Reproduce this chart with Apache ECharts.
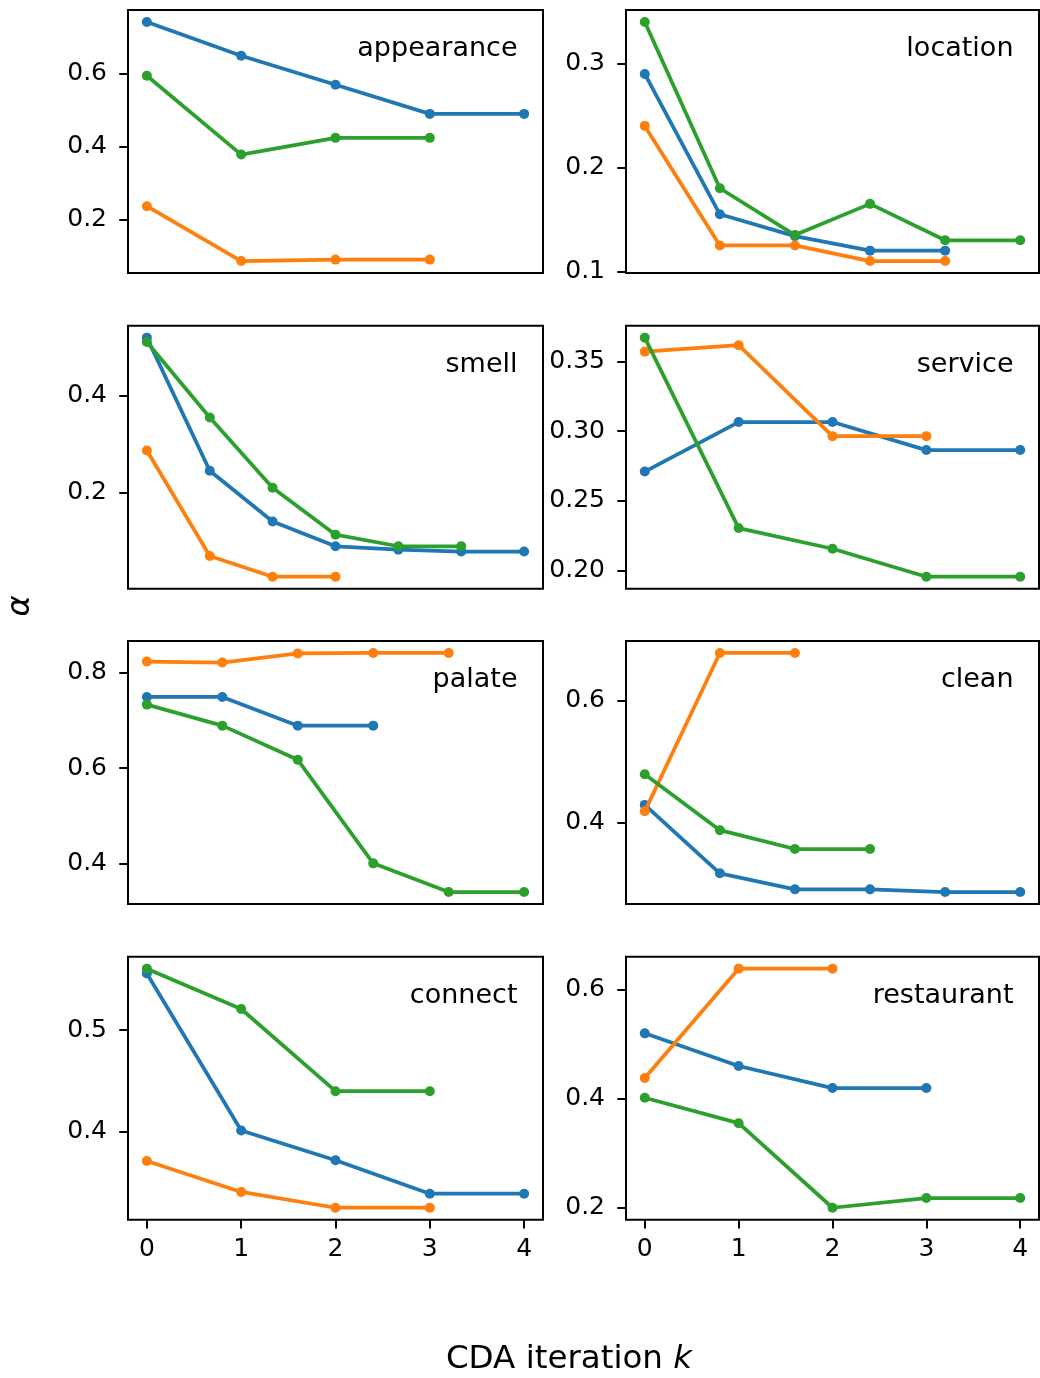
<!DOCTYPE html>
<html><head><meta charset="utf-8">
<script src="https://cdn.jsdelivr.net/npm/echarts@6/dist/echarts.min.js"></script>
<style>html,body{margin:0;padding:0;background:#fff}#c{width:1040px;height:1378px}</style>
</head><body><div id="c"></div>
<script>
// ---------- data ----------
const panelNames = ['appearance','location','smell','service','palate','clean','connect','restaurant'];
const xTicks = [0, 1, 2, 3, 4];
const xTitle = 'CDA iteration ';
const xTitleVar = 'k';
const yTitle = 'α';

const appearanceX = [0, 1, 2, 3, 4];
const appearanceBlue = [0.743, 0.650, 0.570, 0.490, 0.490];
const appearanceOrange = [0.236, 0.085, 0.089, 0.089];
const appearanceGreen = [0.595, 0.378, 0.424, 0.424];
const appearanceTicks = [0.2, 0.4, 0.6];

const locationX = [0, 0.8, 1.6, 2.4, 3.2, 4.0];
const locationBlue = [0.290, 0.155, 0.134, 0.120, 0.120];
const locationOrange = [0.240, 0.125, 0.125, 0.110, 0.110];
const locationGreen = [0.340, 0.180, 0.135, 0.165, 0.130, 0.130];
const locationTicks = [0.1, 0.2, 0.3];

const smellX = [0, 0.667, 1.333, 2, 2.667, 3.333, 4];
const smellBlue = [0.520, 0.245, 0.140, 0.089, 0.082, 0.078, 0.078];
const smellOrange = [0.287, 0.069, 0.026, 0.026];
const smellGreen = [0.511, 0.355, 0.210, 0.113, 0.089, 0.089];
const smellTicks = [0.2, 0.4];

const serviceX = [0, 1, 2, 3, 4];
const serviceBlue = [0.271, 0.3065, 0.3065, 0.2864, 0.2864];
const serviceOrange = [0.357, 0.3616, 0.2964, 0.2964];
const serviceGreen = [0.367, 0.2305, 0.2157, 0.1956, 0.1956];
const serviceTicks = [0.20, 0.25, 0.30, 0.35];

const palateX = [0, 0.8, 1.6, 2.4, 3.2, 4.0];
const palateBlue = [0.749, 0.749, 0.689, 0.689];
const palateOrange = [0.823, 0.821, 0.840, 0.841, 0.841];
const palateGreen = [0.733, 0.689, 0.6175, 0.401, 0.341, 0.341];
const palateTicks = [0.4, 0.6, 0.8];

const cleanX = [0, 0.8, 1.6, 2.4, 3.2, 4.0];
const cleanBlue = [0.4286, 0.316, 0.2896, 0.2896, 0.2852, 0.2852];
const cleanOrange = [0.418, 0.6786, 0.6786];
const cleanGreen = [0.479, 0.387, 0.356, 0.356];
const cleanTicks = [0.4, 0.6];

const connectX = [0, 1, 2, 3, 4];
const connectBlue = [0.556, 0.4007, 0.3713, 0.3383, 0.3383];
const connectOrange = [0.3706, 0.340, 0.3244, 0.3244];
const connectGreen = [0.5607, 0.5208, 0.4396, 0.4396];
const connectTicks = [0.4, 0.5];

const restaurantX = [0, 1, 2, 3, 4];
const restaurantBlue = [0.520, 0.460, 0.4196, 0.4196];
const restaurantOrange = [0.438, 0.6387, 0.6387];
const restaurantGreen = [0.4018, 0.3552, 0.200, 0.2178, 0.2178];
const restaurantTicks = [0.2, 0.4, 0.6];

// ---------- layout / style ----------
const panels = [
  {x: appearanceX, s: [appearanceBlue, appearanceOrange, appearanceGreen], t: appearanceTicks, d: 1},
  {x: locationX, s: [locationBlue, locationOrange, locationGreen], t: locationTicks, d: 1},
  {x: smellX, s: [smellBlue, smellOrange, smellGreen], t: smellTicks, d: 1},
  {x: serviceX, s: [serviceBlue, serviceOrange, serviceGreen], t: serviceTicks, d: 2},
  {x: palateX, s: [palateBlue, palateOrange, palateGreen], t: palateTicks, d: 1},
  {x: cleanX, s: [cleanBlue, cleanOrange, cleanGreen], t: cleanTicks, d: 1},
  {x: connectX, s: [connectBlue, connectOrange, connectGreen], t: connectTicks, d: 1},
  {x: restaurantX, s: [restaurantBlue, restaurantOrange, restaurantGreen], t: restaurantTicks, d: 1}
];
const colors = ['#1f77b4', '#ff7f0e', '#2ca02c'];
const FONT = 'DejaVu Sans';
const colLeft = [128, 626], colWidth = [415, 413];
const rowTop = [10, 325.7, 641, 956.7], rowHeight = 263;

const grids = [], xAxes = [], yAxes = [], series = [], graphics = [];
panels.forEach((p, i) => {
  const row = Math.floor(i / 2), col = i % 2;
  const left = colLeft[col], top = rowTop[row], w = colWidth[col];
  grids.push({left: left, top: top, width: w, height: rowHeight, show: true,
    borderColor: '#000', borderWidth: 2, backgroundColor: 'transparent', containLabel: false});
  const isBottom = row === 3;
  xAxes.push({type: 'value', gridIndex: i, min: -0.2, max: 4.2, position: 'bottom',
    axisLine: {show: false, onZero: false}, splitLine: {show: false},
    axisTick: {show: isBottom, length: 8.75, lineStyle: {color: '#000', width: 2}, customValues: xTicks},
    axisLabel: {show: isBottom, fontSize: 25, color: '#000', fontFamily: FONT, margin: 17.5, customValues: xTicks,
      formatter: v => String(v)}});
  let all = [];
  p.s.forEach(a => all = all.concat(a));
  const mn = Math.min(...all), mx = Math.max(...all), r = mx - mn;
  yAxes.push({type: 'value', gridIndex: i, min: mn - 0.05 * r, max: mx + 0.05 * r, position: 'left',
    axisLine: {show: false, onZero: false}, splitLine: {show: false},
    axisTick: {show: true, length: 8.75, lineStyle: {color: '#000', width: 2}, customValues: p.t},
    axisLabel: {show: true, fontSize: 25, color: '#000', fontFamily: FONT, margin: 21, customValues: p.t,
      formatter: v => v.toFixed(p.d)}});
  p.s.forEach((vals, k) => {
    series.push({type: 'line', xAxisIndex: i, yAxisIndex: i,
      data: vals.map((v, j) => [p.x[j], v]),
      symbol: 'circle', symbolSize: 10, showSymbol: true, showAllSymbol: true,
      lineStyle: {color: colors[k], width: 3.75},
      itemStyle: {color: colors[k], borderWidth: 0},
      z: 2 + k, silent: true});
  });
  graphics.push({type: 'text', x: left + w - 25.5, y: top + 39,
    style: {text: panelNames[i], fill: '#000', font: '27px "DejaVu Sans"', align: 'right', verticalAlign: 'middle'}});
});

graphics.push({type: 'text', x: 21, y: 606, rotation: Math.PI / 2,
  style: {text: yTitle, fill: '#000', font: 'italic 32px "DejaVu Sans"', align: 'center', verticalAlign: 'middle'}});
graphics.push({type: 'text', x: 569, y: 1360,
  style: {text: '{a|' + xTitle + '}{b|' + xTitleVar + '}', align: 'center', verticalAlign: 'middle',
    rich: {a: {fontSize: 32.5, fontFamily: FONT, fill: '#000'}, b: {fontSize: 32.5, fontFamily: FONT, fontStyle: 'italic', fill: '#000'}}}});

const chart = echarts.init(document.getElementById('c'), null, {renderer: 'canvas'});
chart.setOption({animation: false, backgroundColor: '#fff',
  grid: grids, xAxis: xAxes, yAxis: yAxes, series: series, graphic: graphics});
</script></body></html>
